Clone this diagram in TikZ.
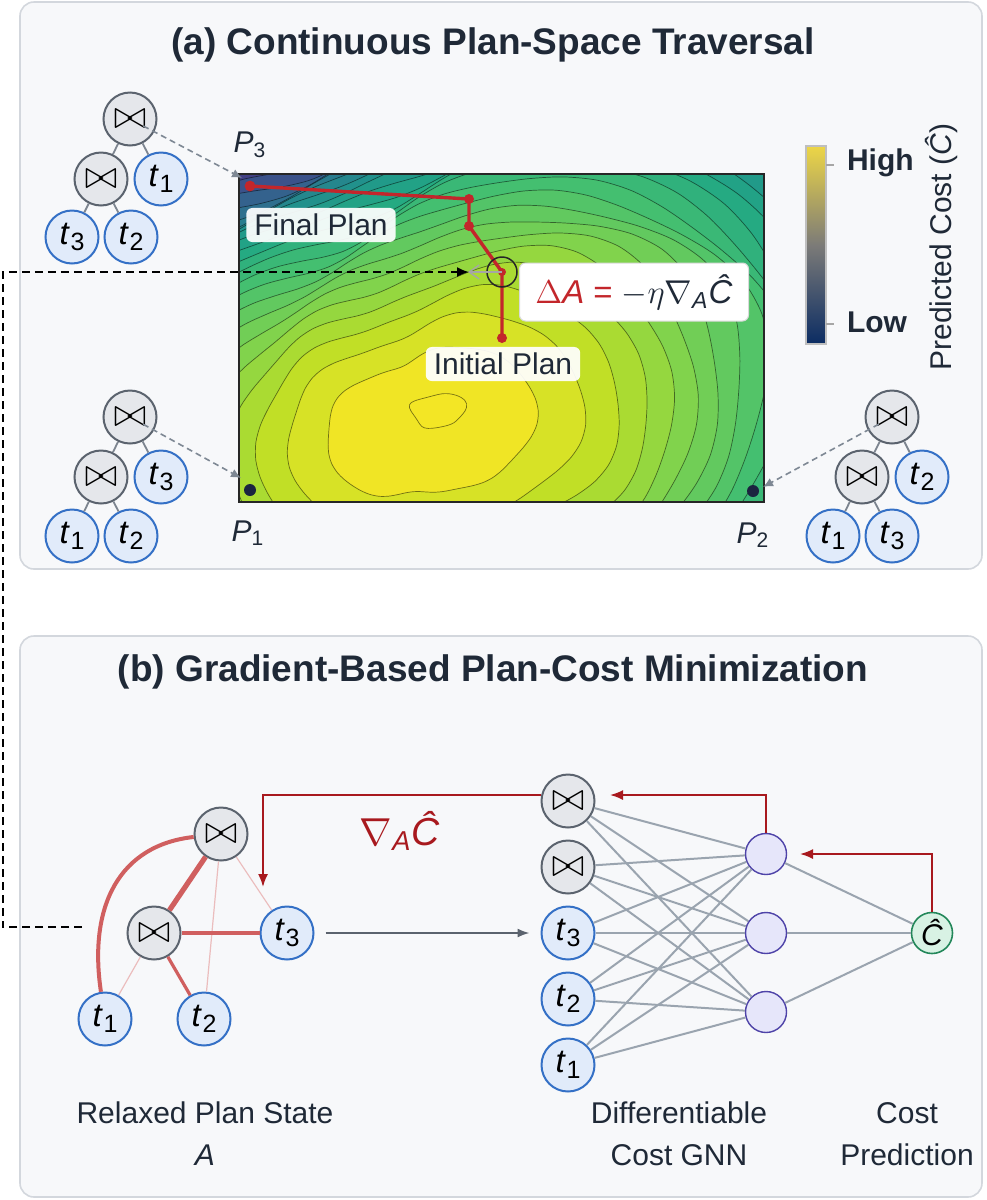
\RequirePackage{fix-cm}
\documentclass[tikz,border=0pt]{standalone}
\usepackage{fontspec}
\setmainfont{Liberation Sans}
\usetikzlibrary{arrows.meta}

\definecolor{ink}{HTML}{1F2937}
\definecolor{panelfill}{HTML}{F7F8FA}
\definecolor{panelline}{HTML}{D3D7DD}
\definecolor{opfill}{HTML}{E5E7EB}
\definecolor{opline}{HTML}{5B636E}
\definecolor{tfill}{HTML}{E1EBFA}
\definecolor{tline}{HTML}{3470C6}
\definecolor{edgegray}{HTML}{7D8590}
\definecolor{arrowgray}{HTML}{7E8894}
\definecolor{pathred}{HTML}{C3262B}
\definecolor{gradred}{HTML}{A8191E}
\definecolor{relaxred}{HTML}{D05F5F}
\definecolor{relaxlight}{HTML}{EBBDBD}
\definecolor{nnline}{HTML}{9AA4AF}
\definecolor{hidfill}{HTML}{E6E6FA}
\definecolor{hidline}{HTML}{4E43A8}
\definecolor{outfill}{HTML}{D8F2E4}
\definecolor{outln}{HTML}{23875A}
\definecolor{dotnavy}{HTML}{1B2440}
\definecolor{cvtop}{HTML}{EDD646}
\definecolor{cvmid}{HTML}{7C7B78}
\definecolor{cvbot}{HTML}{0B2C63}
\definecolor{V0}{HTML}{440154}
\definecolor{V1}{HTML}{482475}
\definecolor{V2}{HTML}{414487}
\definecolor{V3}{HTML}{355F8D}
\definecolor{V4}{HTML}{2A788E}
\definecolor{V5}{HTML}{21918C}
\definecolor{V6}{HTML}{22A884}
\definecolor{V7}{HTML}{44BF70}
\definecolor{V8}{HTML}{7AD151}
\definecolor{V9}{HTML}{BDDF26}
\definecolor{V10}{HTML}{FDE725}
\colorlet{Vtop}{V10!85!V9}

\newcommand\tlab[1]{\textit{t}\kern0.3pt\raisebox{-0.35ex}{\fontsize{12.5}{12}\selectfont #1}}
\newcommand\plab[1]{\textit{P}\textsubscript{#1}}
\newcommand\chat{\textit{Ĉ}}
\newcommand\bt{{\fontsize{20}{20}\selectfont$\bowtie$}}

\tikzset{
  panel/.style={fill=panelfill, draw=panelline, line width=0.8pt, rounded corners=7pt},
  ttl/.style={font=\fontsize{18.5}{22}\selectfont\bfseries, text=ink},
  lbl/.style={font=\fontsize{15}{21}\selectfont, text=ink, align=center},
  opn/.style={circle, draw=opline, fill=opfill, line width=1pt, minimum size=26.5pt, inner sep=0pt},
  tn/.style={circle, draw=tline, fill=tfill, line width=1pt, minimum size=26.5pt, inner sep=0pt, font=\fontsize{16.5}{18}\selectfont, text=black},
  hid/.style={circle, draw=hidline, fill=hidfill, line width=0.7pt, minimum size=20.5pt, inner sep=0pt},
  outn/.style={circle, draw=outln, fill=outfill, line width=0.8pt, minimum size=20.5pt, inner sep=0pt, font=\fontsize{15}{18}\selectfont},
  tedge/.style={draw=edgegray, line width=0.9pt},
  gdash/.style={draw=arrowgray, line width=0.8pt, dash pattern=on 3pt off 2pt, -{Latex[length=5pt,width=4.5pt]}, shorten <=7.5pt},
  bdash/.style={draw=black, line width=1pt, dash pattern=on 4pt off 2.5pt, -{Latex[length=6pt,width=5pt]}},
  contourline/.style={draw=black, draw opacity=0.5, line width=0.35pt},
  plabel/.style={fill=white, fill opacity=0.93, text opacity=1, rounded corners=3pt, inner xsep=4pt, inner ysep=3pt, font=\fontsize{15}{18}\selectfont, text=ink},
  pname/.style={font=\fontsize{15}{18}\selectfont, text=ink},
  nnedge/.style={draw=nnline, line width=1pt},
  gradarrow/.style={draw=gradred, line width=0.9pt, -{Latex[length=6.5pt,width=5pt]}},
  grayarrow/.style={draw=opline, line width=0.9pt, -{Latex[length=6pt,width=4.5pt]}, shorten <=5.5pt, shorten >=5.5pt}
}

\begin{document}
\begin{tikzpicture}[x=0.5pt,y=-0.5pt]
\useasboundingbox (0,0) rectangle (986,1200);
\fill[white] (0,0) rectangle (986,1200);

% panels
\draw[panel] (20,2) rectangle (982,569);
\draw[panel] (20,636) rectangle (982,1197);
\node[ttl] (titleA) at (493,45) {(a) Continuous Plan-Space Traversal};
\node[ttl] (titleB) at (493,672) {(b) Gradient-Based Plan-Cost Minimization};

% ---------------- heatmap ----------------
\begin{scope}
  \clip (239,174) rectangle (764,502);
  \fill[V0] (239,174) rectangle (764,502);
  \foreach \k in {27,26,...,1}{
    \pgfmathsetmacro\uu{max(0,min(1,1-(\k-0.5)/24))}
    \pgfmathsetmacro\vv{min(1,\uu+\uu*(1-\uu)*(1-\uu))}
    \pgfmathtruncatemacro\ii{min(9,floor(\vv*10))}
    \pgfmathtruncatemacro\jj{\ii+1}
    \pgfmathtruncatemacro\pp{round((\vv*10-\ii)*100)}
    \colorlet{bandcol}{V\jj!\pp!V\ii}
    \pgfmathsetmacro\sk{sqrt(\k/24)}
    \filldraw[fill=bandcol, contourline] plot[smooth cycle, variable=\t, samples=60, domain=0:354]
      ({420+\sk*(420+50*cos(\t)+100*cos(2*(\t-15)))*(1+0.022*sin(5*\t+40*\k)+0.014*sin(9*\t+70*\k))*cos(\t)},
       {425-\sk*(420+50*cos(\t)+100*cos(2*(\t-15)))*(1+0.022*sin(5*\t+40*\k)+0.014*sin(9*\t+70*\k))*sin(\t)});
  }
  \filldraw[fill=Vtop, contourline] plot[smooth cycle, variable=\t, samples=36, domain=0:350]
      ({438+(27+4*sin(3*\t))*cos(\t)},{411-(18+3*sin(2*\t+30))*sin(\t)});
\end{scope}
\draw[black!85, line width=0.6pt] (239,174) rectangle (764,502);

% corner points
\coordinate (cP3) at (242,178);
\coordinate (cP1) at (241,478);
\coordinate (cP2) at (763,487);
\fill[dotnavy] (250,490) circle (3pt);
\fill[dotnavy] (753,491) circle (3pt);

% red optimisation path
\coordinate (rp0) at (502,338);
\coordinate (rp1) at (502,272);
\coordinate (rp2) at (469,226);
\coordinate (rp3) at (469,199);
\coordinate (rp4) at (250,186);
\draw[pathred, line width=1.7pt, line join=round] (rp0) -- (rp1) -- (rp2) -- (rp3) -- (rp4);
\fill[pathred] (rp0) circle (2.5pt);
\fill[pathred] (rp1) circle (2pt);
\fill[pathred] (rp2) circle (2.5pt);
\fill[pathred] (rp3) circle (2.5pt);
\fill[pathred] (rp4) circle (2.7pt);

\node[circle, draw=black!85, line width=0.75pt, minimum size=15pt, inner sep=0pt] (circ) at (rp1) {};
\coordinate (gtip) at (468,272);
\draw[black!35, line width=0.7pt, -{Straight Barb[length=5pt,width=7pt]}] (circ.center) -- (gtip);

\node[plabel] (finalL) at (321,225) {Final Plan};
\node[plabel] (initL) at (503,364) {Initial Plan};
\node[fill=white, draw=black!15, line width=0.5pt, rounded corners=3pt, minimum width=114.5pt, minimum height=29pt, inner sep=2pt, font=\fontsize{16.5}{20}\selectfont, text=ink] (formula) at (634,292)
  {{\color{pathred}$\Delta$\textit{A} =} $-\eta\nabla$\textsubscript{\textit{A}}\chat};

% P labels
\node[pname] (p3) at (250,145) {\plab{3}};
\node[pname] (p1) at (248,533) {\plab{1}};
\node[pname] (p2) at (753,535) {\plab{2}};

% colour bar
\shade[top color=cvtop, bottom color=cvbot, middle color=cvmid] (806,146) rectangle (826,344);
\draw[black!25, line width=0.6pt] (806,146) rectangle (826,344);
\draw[black!35, line width=0.6pt] (826,165) -- (834,165);
\draw[black!35, line width=0.6pt] (826,324) -- (834,324);
\node[anchor=west, font=\fontsize{15}{18}\selectfont\bfseries, text=ink] (high) at (840,163) {High};
\node[anchor=west, font=\fontsize{15}{18}\selectfont\bfseries, text=ink] (low) at (840,322) {Low};
\node[rotate=90, font=\fontsize{15}{18}\selectfont, text=ink] (cblab) at (941,247) {Predicted Cost (\chat)};

% ---------------- plan trees ----------------
% P3 tree
\node[opn] (a1r) at (130,119) {\bt};
\node[opn] (a1j) at (101,179) {\bt};
\node[tn] (a1t1) at (161,179) {\tlab{1}};
\node[tn] (a1t3) at (72,237) {\tlab{3}};
\node[tn] (a1t2) at (131,237) {\tlab{2}};
\draw[tedge] (a1r) -- (a1j);
\draw[tedge] (a1r) -- (a1t1);
\draw[tedge] (a1j) -- (a1t3);
\draw[tedge] (a1j) -- (a1t2);
\draw[gdash] (a1r.center) -- (cP3);
% P1 tree
\node[opn] (a2r) at (130,417) {\bt};
\node[opn] (a2j) at (101,477) {\bt};
\node[tn] (a2t3) at (161,477) {\tlab{3}};
\node[tn] (a2t1) at (72,536) {\tlab{1}};
\node[tn] (a2t2) at (131,536) {\tlab{2}};
\draw[tedge] (a2r) -- (a2j);
\draw[tedge] (a2r) -- (a2t3);
\draw[tedge] (a2j) -- (a2t1);
\draw[tedge] (a2j) -- (a2t2);
\draw[gdash] (a2r.center) -- (cP1);
% P2 tree
\node[opn] (a3r) at (892,417) {\bt};
\node[opn] (a3j) at (862,477) {\bt};
\node[tn] (a3t2) at (922,477) {\tlab{2}};
\node[tn] (a3t1) at (833,536) {\tlab{1}};
\node[tn] (a3t3) at (892,536) {\tlab{3}};
\draw[tedge] (a3r) -- (a3j);
\draw[tedge] (a3r) -- (a3t2);
\draw[tedge] (a3j) -- (a3t1);
\draw[tedge] (a3j) -- (a3t3);
\draw[gdash] (a3r.center) -- (cP2);

% ---------------- panel (b) ----------------
% relaxed plan state
\node[opn] (r1) at (221,834) {\bt};
\node[opn] (r2) at (154,933) {\bt};
\node[tn] (r3) at (287,933) {\tlab{3}};
\node[tn] (r4) at (105,1019) {\tlab{1}};
\node[tn] (r5) at (204,1019) {\tlab{2}};
\draw[relaxlight, line width=0.6pt] (r1) -- (r3);
\draw[relaxlight, line width=0.6pt] (r1) -- (r5);
\draw[relaxlight, line width=0.6pt] (r2) -- (r4);
\draw[relaxred, line width=2.6pt] (r1) -- (r2);
\draw[relaxred, line width=1.9pt] (r2) -- (r3);
\draw[relaxred, line width=1.6pt] (r2) -- (r5);
\draw[relaxred, line width=2pt] (r1) .. controls (120,845) and (88,905) .. (r4);

% GNN
\node[opn] (g1) at (568,801) {\bt};
\node[opn] (g2) at (568,867) {\bt};
\node[tn] (g3) at (568,933) {\tlab{3}};
\node[tn] (g4) at (568,999) {\tlab{2}};
\node[tn] (g5) at (568,1065) {\tlab{1}};
\node[hid] (h1) at (766,854) {};
\node[hid] (h2) at (766,933) {};
\node[hid] (h3) at (766,1012) {};
\node[outn] (o) at (932,933) {\chat};
\foreach \i in {1,...,5}{
  \foreach \j in {1,2,3}{
    \draw[nnedge] (g\i) -- (h\j);
  }
}
\foreach \j in {1,2,3}{
  \draw[nnedge] (h\j) -- (o);
}

% arrows in (b)
\draw[grayarrow] (r3) -- (g3);
\coordinate (ga) at (800,854);
\coordinate (gb) at (610,795);
\coordinate (gc) at (263,795);
\coordinate (gd) at (263,887);
\draw[gradarrow] (o.north) |- (ga);
\draw[gradarrow] (h1.north) |- (gb);
\draw[gradarrow] ([yshift=3pt]g1.west) -- (gc) -- (gd);
\node[font=\fontsize{19.5}{22}\selectfont, text=gradred] (gradlab) at (400,831) {$\nabla$\textsubscript{\textit{A}}\chat};

% link between the panels
\coordinate (dstart) at (82,927);
\coordinate (dtip) at (469,272);
\draw[bdash] (dstart) -- (2.5,927) |- (dtip);

% captions
\node[lbl] (capA) at (205,1134) {Relaxed Plan State\\\textit{A}};
\node[lbl] (capG) at (679,1134) {Differentiable\\Cost GNN};
\node[lbl] (capC) at (907,1134) {Cost\\Prediction};
\end{tikzpicture}
\end{document}
